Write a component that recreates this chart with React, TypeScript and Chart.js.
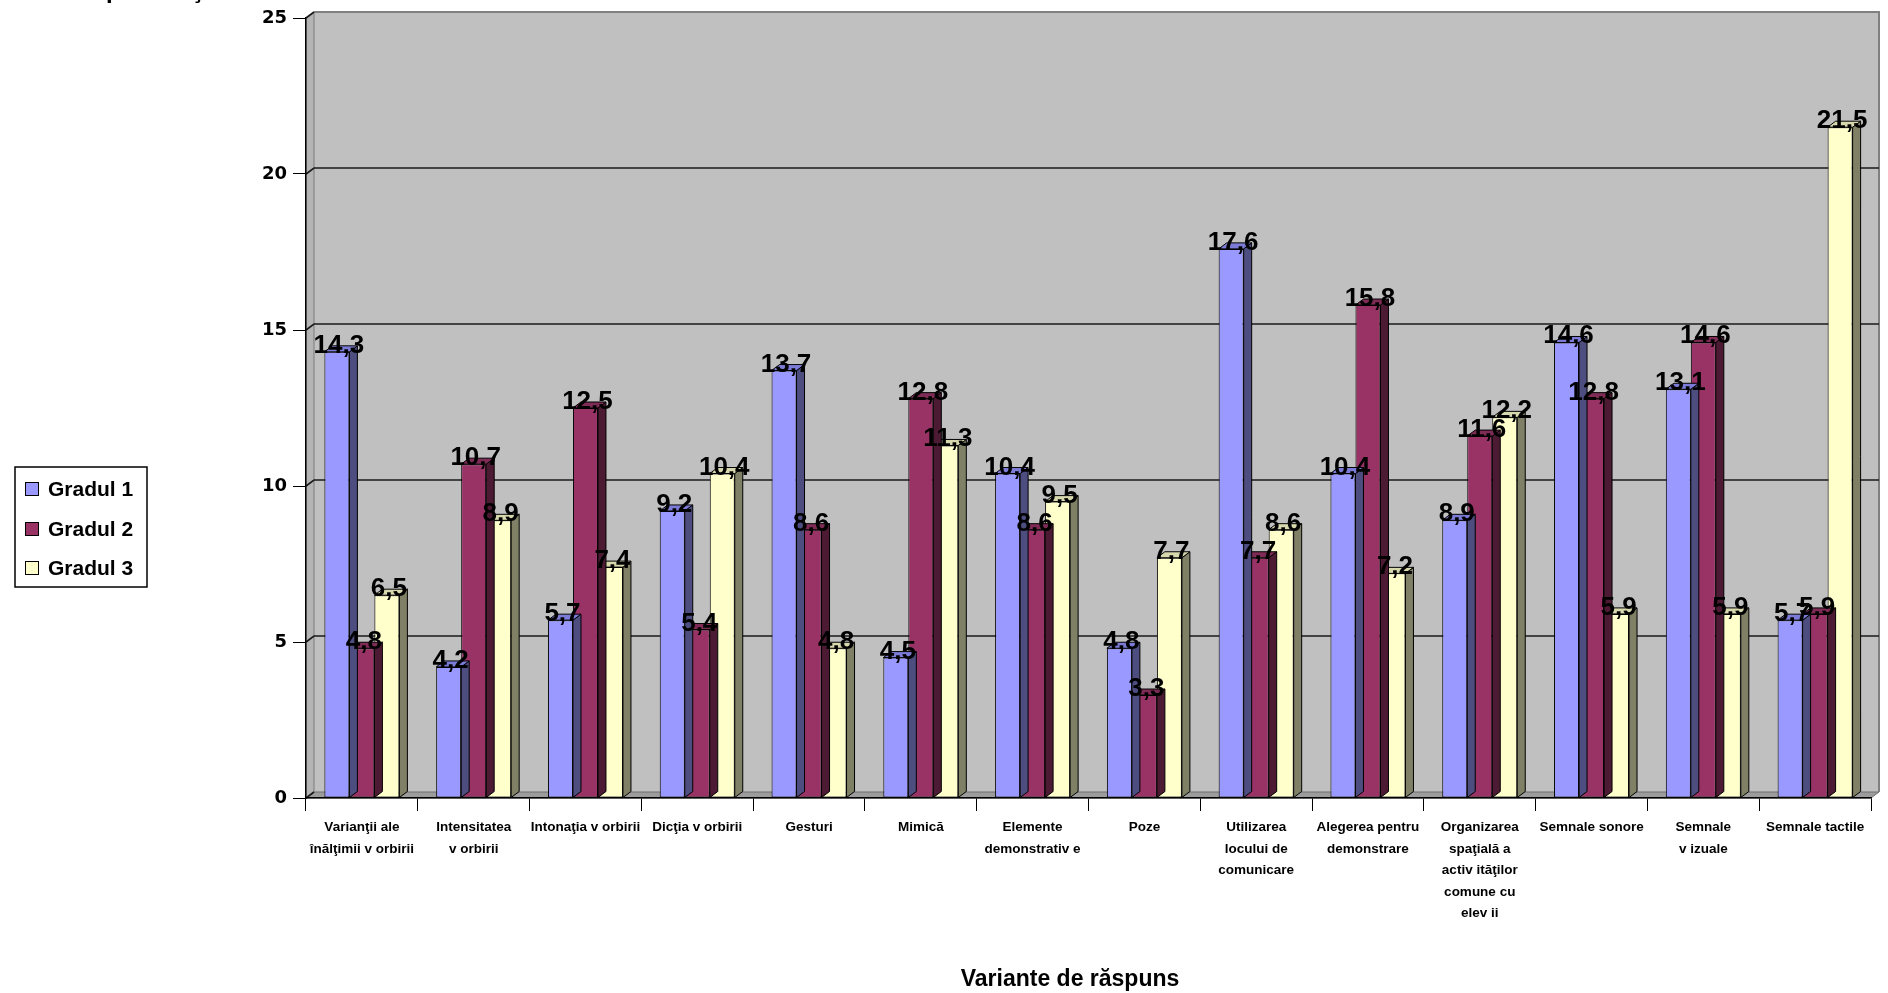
import React, { useEffect, useRef } from 'react';
import { Chart, registerables } from 'chart.js';

Chart.register(...registerables);

// Categories (multi-line tick labels)
const categories: string[][] = [
  ['Varianţii ale', 'înălţimii v orbirii'],
  ['Intensitatea', 'v orbirii'],
  ['Intonaţia v orbirii'],
  ['Dicţia v orbirii'],
  ['Gesturi'],
  ['Mimică'],
  ['Elemente', 'demonstrativ e'],
  ['Poze'],
  ['Utilizarea', 'locului de', 'comunicare'],
  ['Alegerea pentru', 'demonstrare'],
  ['Organizarea', 'spaţială a', 'activ ităţilor', 'comune cu', 'elev ii'],
  ['Semnale sonore'],
  ['Semnale', 'v izuale'],
  ['Semnale tactile'],
];

const seriesNames = ['Gradul 1', 'Gradul 2', 'Gradul 3'];
const gradul1 = [14.3, 4.2, 5.7, 9.2, 13.7, 4.5, 10.4, 4.8, 17.6, 10.4, 8.9, 14.6, 13.1, 5.7];
const gradul2 = [4.8, 10.7, 12.5, 5.4, 8.6, 12.8, 8.6, 3.3, 7.7, 15.8, 11.6, 12.8, 14.6, 5.9];
const gradul3 = [6.5, 8.9, 7.4, 10.4, 4.8, 11.3, 9.5, 7.7, 8.6, 7.2, 12.2, 5.9, 5.9, 21.5];

const yTicks = [0, 5, 10, 15, 20, 25];
const xTitle = 'Variante de răspuns';
const yTitle = '% respondenţi';

// oblique depth of the pseudo-3D walls and columns
const DX = 8;
const DY = -6;

const faceColors = [
  { front: '#9999FF', top: '#7C7CD8', side: '#4D4D80' },
  { front: '#993366', top: '#7E2B55', side: '#4D1A33' },
  { front: '#FFFFCC', top: '#D8D8AE', side: '#808066' },
];

const SANS = '"Liberation Sans", Arial, sans-serif';

function poly(ctx: CanvasRenderingContext2D, pts: number[][], fill: string, stroke: string | null, lw = 1) {
  ctx.beginPath();
  ctx.moveTo(pts[0][0], pts[0][1]);
  for (let i = 1; i < pts.length; i++) ctx.lineTo(pts[i][0], pts[i][1]);
  ctx.closePath();
  ctx.fillStyle = fill;
  ctx.fill();
  if (stroke) {
    ctx.strokeStyle = stroke;
    ctx.lineWidth = lw;
    ctx.stroke();
  }
}

// back wall, left wall, floor, gridlines, column depth faces, value labels, legend and titles
const wallsPlugin = {
  id: 'walls3d',
  beforeDraw(chart: any) {
    const { ctx, chartArea: a, scales } = chart;
    const ys = scales.y;
    ctx.save();
    // back wall
    ctx.fillStyle = '#C0C0C0';
    ctx.fillRect(a.left + DX, a.top + DY, a.right - a.left, a.bottom - a.top);
    // left wall
    poly(ctx, [[a.left, a.top], [a.left + DX, a.top + DY], [a.left + DX, a.bottom + DY], [a.left, a.bottom]], '#B4B4B4', '#7A7A7A');
    // floor
    poly(ctx, [[a.left, a.bottom], [a.left + DX, a.bottom + DY], [a.right + DX, a.bottom + DY], [a.right, a.bottom]], '#9C9C9C', '#6E6E6E');
    // wall outline
    ctx.strokeStyle = '#808080';
    ctx.lineWidth = 2;
    ctx.beginPath();
    ctx.moveTo(a.left + DX, a.top + DY);
    ctx.lineTo(a.right + DX, a.top + DY);
    ctx.lineTo(a.right + DX, a.bottom + DY);
    ctx.stroke();
    // gridlines
    ctx.strokeStyle = '#1a1a1a';
    ctx.lineWidth = 1.6;
    yTicks.forEach((v) => {
      const py = ys.getPixelForValue(v);
      ctx.beginPath();
      ctx.moveTo(a.left, py);
      ctx.lineTo(a.left + DX, py + DY);
      if (v !== yTicks[0] && v !== yTicks[yTicks.length - 1]) {
        ctx.lineTo(a.right + DX, py + DY);
      }
      ctx.stroke();
    });
    ctx.restore();
  },
  afterDatasetDraw(chart: any, args: any) {
    const { ctx } = chart;
    const meta = args.meta;
    const c = faceColors[args.index];
    ctx.save();
    meta.data.forEach((el: any) => {
      const l = el.x - el.width / 2;
      const r = el.x + el.width / 2;
      const t = el.y;
      const b = el.base;
      poly(ctx, [[r, t], [r + DX, t + DY], [r + DX, b + DY], [r, b]], c.side, '#000');
      poly(ctx, [[l, t], [l + DX, t + DY], [r + DX, t + DY], [r, t]], c.top, '#000');
    });
    ctx.restore();
  },
  afterDatasetsDraw(chart: any) {
    const { ctx } = chart;
    ctx.save();
    ctx.font = `bold 26px ${SANS}`;
    ctx.fillStyle = '#000';
    ctx.textAlign = 'center';
    ctx.textBaseline = 'alphabetic';
    chart.data.datasets.forEach((ds: any, di: number) => {
      const meta = chart.getDatasetMeta(di);
      meta.data.forEach((el: any, i: number) => {
        const txt = Number(ds.data[i]).toFixed(1).replace('.', ',');
        ctx.fillText(txt, el.x + 2, el.y + 1);
      });
    });
    ctx.restore();
  },
  afterDraw(chart: any) {
    const { ctx } = chart;
    ctx.save();
    // legend
    const lx = 15, ly = 467, lw = 132, lh = 120;
    ctx.fillStyle = '#fff';
    ctx.fillRect(lx, ly, lw, lh);
    ctx.strokeStyle = '#000';
    ctx.lineWidth = 1.5;
    ctx.strokeRect(lx, ly, lw, lh);
    ctx.font = `bold 21px ${SANS}`;
    ctx.textBaseline = 'middle';
    ctx.textAlign = 'left';
    const rows = [489, 529, 568];
    seriesNames.forEach((name, i) => {
      const cy = rows[i];
      ctx.fillStyle = faceColors[i].front;
      ctx.fillRect(25, cy - 7, 14, 14);
      ctx.strokeStyle = '#000';
      ctx.lineWidth = 1;
      ctx.strokeRect(25.5, cy - 6.5, 13, 13);
      ctx.fillStyle = '#000';
      ctx.fillText(name, 48, cy + 1);
    });
    // category-axis title
    ctx.font = `bold 23px ${SANS}`;
    ctx.textAlign = 'center';
    ctx.textBaseline = 'middle';
    ctx.fillText(xTitle, 1070, 980);
    // value-axis title along the top edge
    ctx.font = `bold 24px ${SANS}`;
    ctx.textAlign = 'left';
    ctx.textBaseline = 'alphabetic';
    const pre = ctx.measureText('% res').width;
    ctx.fillText(yTitle, 106 - pre, -2);
    ctx.restore();
  },
};

export default function App() {
  const ref = useRef<HTMLCanvasElement | null>(null);

  useEffect(() => {
    document.body.style.margin = '0';
    document.body.style.overflow = 'hidden';
    const canvas = ref.current;
    if (!canvas) return;
    const chart = new Chart(canvas, {
      type: 'bar',
      data: {
        labels: categories,
        datasets: [gradul1, gradul2, gradul3].map((d, i) => ({
          label: seriesNames[i],
          data: d,
          backgroundColor: faceColors[i].front,
          borderColor: '#000',
          borderWidth: 1,
          borderSkipped: false,
          barPercentage: 1,
          categoryPercentage: 0.671,
        })),
      },
      options: {
        responsive: false,
        animation: false,
        devicePixelRatio: 1,
        layout: { padding: { left: 246, right: 17, top: 18, bottom: 0 } },
        plugins: {
          legend: { display: false },
          tooltip: { enabled: false },
        },
        scales: {
          x: {
            grid: { display: true, drawOnChartArea: false, drawTicks: true, tickLength: 13, color: '#000', offset: true },
            border: { display: true, color: '#000', width: 1.5 },
            ticks: {
              color: '#000',
              font: { family: SANS, size: 13.5, weight: 'bold', lineHeight: 1.585 },
              maxRotation: 0,
              minRotation: 0,
              autoSkip: false,
              padding: 6,
            },
            afterFit(scale: any) {
              scale.height = 195;
            },
          },
          y: {
            min: 0,
            max: 25,
            ticks: {
              stepSize: 5,
              color: '#000',
              font: { family: '"DejaVu Sans", sans-serif', size: 18, weight: 'bold' },
              padding: 6,
            },
            grid: { display: true, drawOnChartArea: false, drawTicks: true, tickLength: 13, color: '#000' },
            border: { display: true, color: '#000', width: 1.5 },
            afterFit(scale: any) {
              scale.width = 60;
            },
          },
        },
      } as any,
      plugins: [wallsPlugin],
    });
    return () => chart.destroy();
  }, []);

  return (
    <div style={{ width: 1888, height: 993, background: '#fff' }}>
      <canvas ref={ref} width={1888} height={993} style={{ display: 'block' }} />
    </div>
  );
}
